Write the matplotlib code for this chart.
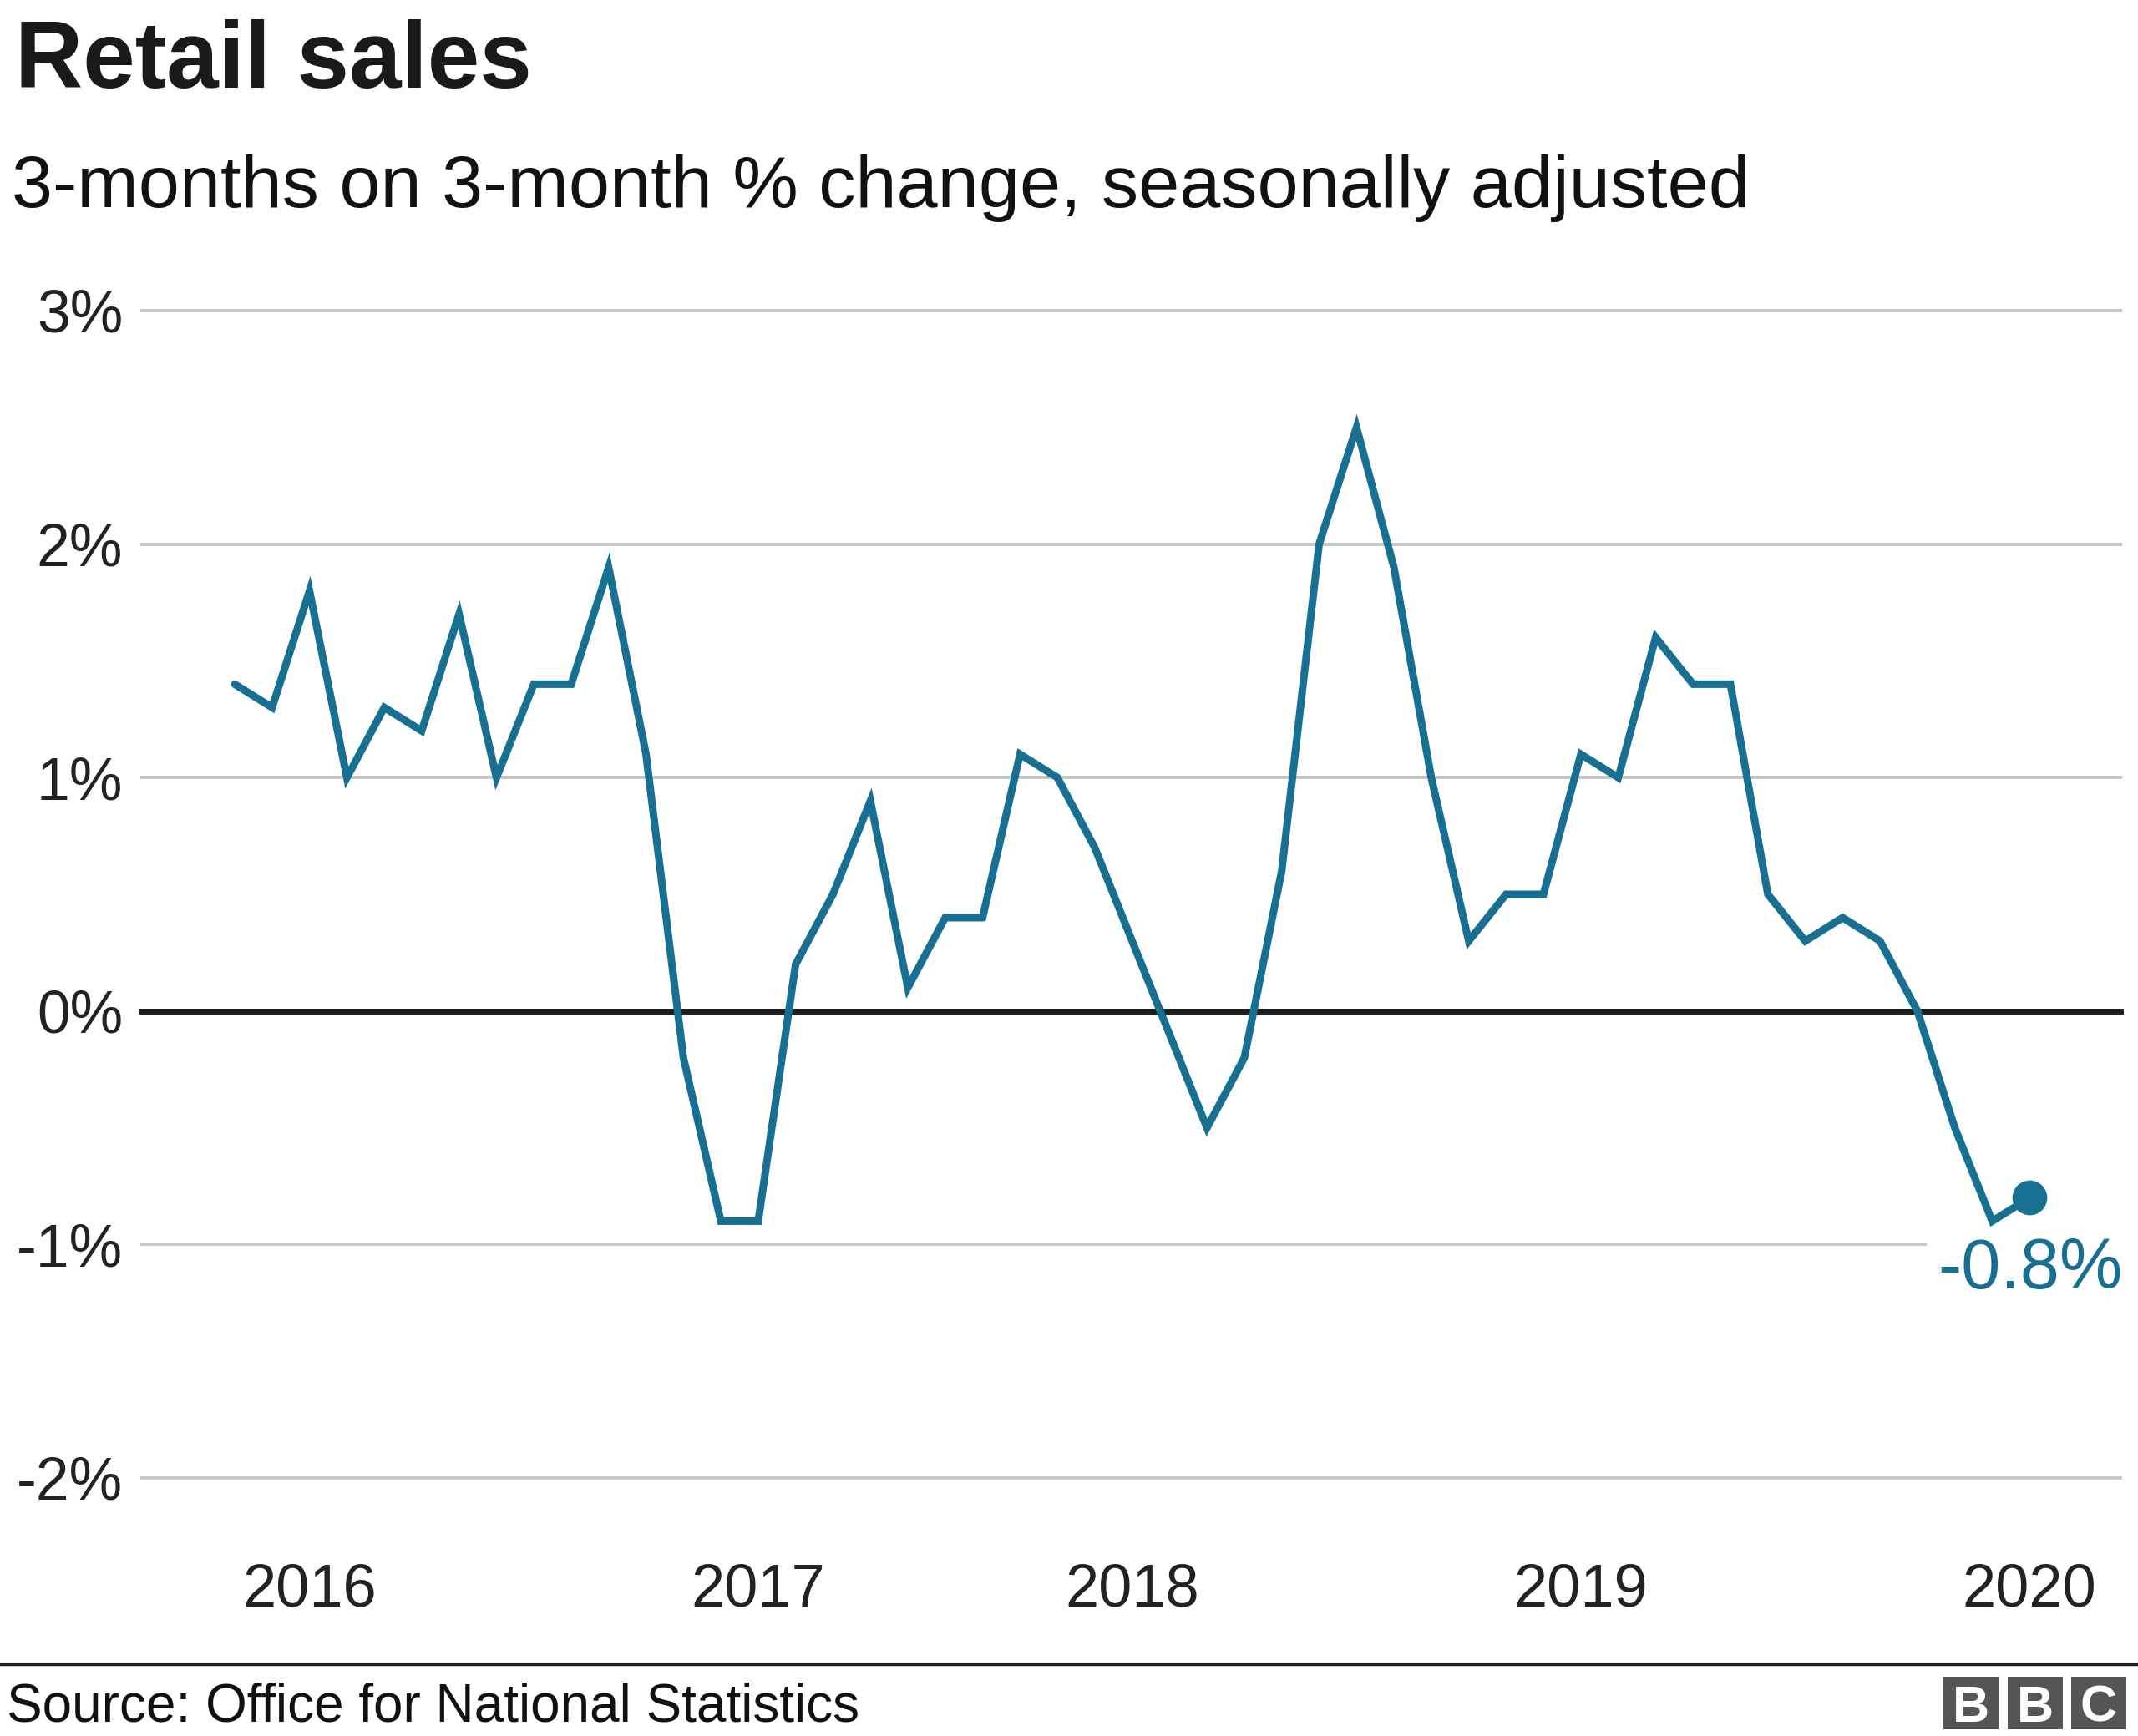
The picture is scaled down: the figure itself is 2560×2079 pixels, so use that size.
import matplotlib
matplotlib.use('Agg')
import matplotlib.pyplot as plt
from matplotlib.patches import Rectangle
from matplotlib.lines import Line2D

# ---- data ----
values = [1.4, 1.3, 1.8, 1.0, 1.3, 1.2, 1.7, 1.0, 1.4, 1.4,
          1.9, 1.1, -0.2, -0.9, -0.9, 0.2, 0.5, 0.9, 0.1, 0.4,
          0.4, 1.1, 1.0, 0.7, 0.3, -0.1, -0.5, -0.2, 0.6, 2.0,
          2.5, 1.9, 1.0, 0.3, 0.5, 0.5, 1.1, 1.0, 1.6, 1.4,
          1.4, 0.5, 0.3, 0.4, 0.3, 0.0, -0.5, -0.9, -0.8]
xtick_pos = [2, 14, 24, 36, 48]
xtick_labels = ['2016', '2017', '2018', '2019', '2020']
ytick_vals = [3, 2, 1, 0, -1, -2]
ytick_labels = ['3%', '2%', '1%', '0%', '-1%', '-2%']
last_label = '-0.8%'

title = 'Retail sales'
subtitle = '3-months on 3-month % change, seasonally adjusted'
source = 'Source: Office for National Statistics'

# ---- style ----
W, H = 2560, 2079
LINE_COLOR = '#176f91'
TEXT = '#222222'
FONT = 'Liberation Sans'
plt.rcParams['font.family'] = [FONT, 'DejaVu Sans']

fig = plt.figure(figsize=(W / 100, H / 100), dpi=100)
fig.patch.set_facecolor('white')

ax_left, ax_right, ax_top, ax_bottom = 170, 2539, 372, 1770
ax = fig.add_axes([ax_left / W, 1 - ax_bottom / H,
                   (ax_right - ax_left) / W, (ax_bottom - ax_top) / H])
ax.set_facecolor('none')

x = list(range(len(values)))
ax.set_xlim(-2.48, 50.43)
ax.set_ylim(-2, 3)

for v in ytick_vals:
    if v == 0:
        ax.axhline(v, color='#1e1e1e', lw=5.0, zorder=2, clip_on=False)
    else:
        ax.axhline(v, color='#c6c6c6', lw=2.8, zorder=1, clip_on=False)

ax.plot(x, values, color=LINE_COLOR, lw=6.5, solid_joinstyle='miter',
        solid_capstyle='round', zorder=4, clip_on=False)
ax.plot([x[-1]], [values[-1]], 'o', color=LINE_COLOR, ms=29, zorder=5,
        clip_on=False)

ax.annotate(last_label, xy=(x[-1], values[-1]), xytext=(80, -78),
            textcoords='offset points', ha='right', va='baseline',
            fontsize=61, color=LINE_COLOR, zorder=3,
            bbox=dict(facecolor='white', edgecolor='none', pad=10))

for s in ax.spines.values():
    s.set_visible(False)
ax.set_yticks(ytick_vals)
ax.set_yticklabels(ytick_labels)
ax.set_xticks(xtick_pos)
ax.set_xticklabels(xtick_labels)
ax.tick_params(axis='y', length=0, pad=16.5, labelsize=51.5, labelcolor=TEXT)
ax.tick_params(axis='x', length=0, pad=73, labelsize=52, labelcolor=TEXT)

# ---- titles ----
fig.text(18 / W, 1 - 105 / H, title, fontsize=81, fontweight='bold',
         color='#1a1a1a', ha='left', va='baseline')
fig.text(14 / W, 1 - 248 / H, subtitle, fontsize=63.5, color='#111111',
         ha='left', va='baseline')

# ---- footer ----
fig.add_artist(Line2D([0, 1], [1 - 1993 / H, 1 - 1993 / H],
                      transform=fig.transFigure, color='#1e1e1e', lw=2.5))
fig.text(8 / W, 1 - 2062 / H, source, fontsize=46, color='#111111',
         ha='left', va='baseline')

box_x = [2327, 2404, 2480]
for bx, letter in zip(box_x, ['B', 'B', 'C']):
    fig.add_artist(Rectangle((bx / W, 1 - 2071 / H), 66 / W, 63 / H,
                             transform=fig.transFigure, facecolor='#555555',
                             edgecolor='none'))
    fig.text((bx + 33) / W, 1 - 2039.5 / H, letter, fontsize=44,
             fontweight='bold', color='white', ha='center',
             va='center_baseline')

fig.savefig('out.png', dpi=100, facecolor='white')
